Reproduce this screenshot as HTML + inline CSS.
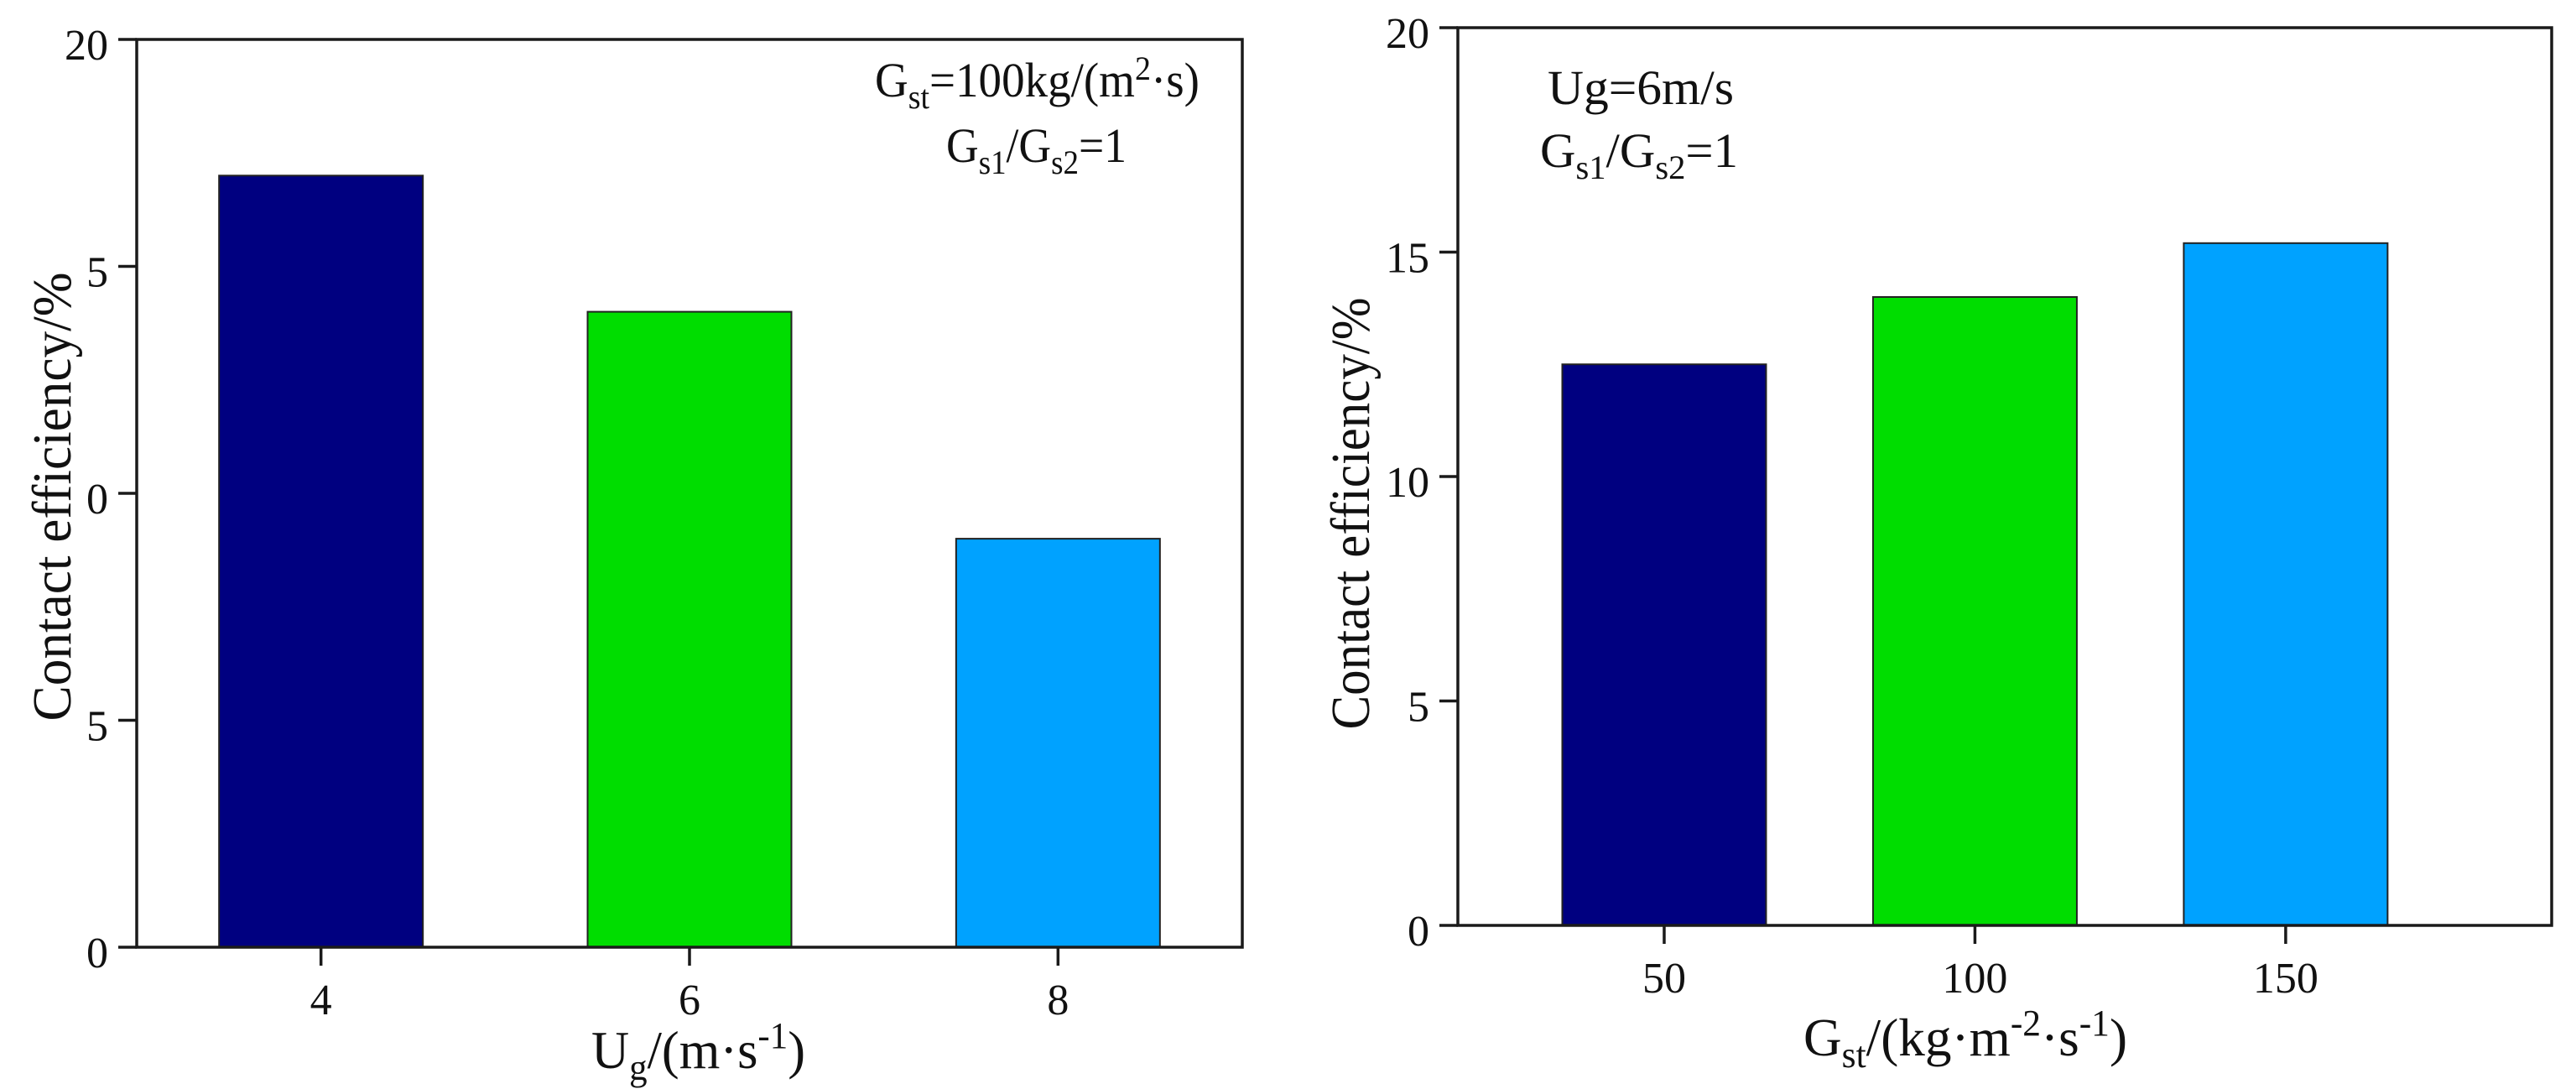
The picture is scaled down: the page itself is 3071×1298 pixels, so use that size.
<!DOCTYPE html>
<html><head><meta charset="utf-8"><style>
html,body{margin:0;padding:0;background:#fff;}
svg{display:block;font-family:"Liberation Serif",serif;}
</style></head><body>
<svg id="fig" width="3071" height="1298" viewBox="0 0 3071 1298" xmlns="http://www.w3.org/2000/svg">
<rect x="0" y="0" width="3071" height="1298" fill="#fff"/>
<g id="left"></g>
<g id="right"></g>
<g font-family="Liberation Serif, serif" fill="#111">
  <text x="1043" y="115" font-size="58" textLength="387" lengthAdjust="spacingAndGlyphs">G<tspan font-size="40" dy="14">st</tspan><tspan dy="-14">=100kg/(m</tspan><tspan font-size="40" dy="-20">2</tspan><tspan dy="20">·s)</tspan></text>
  <text x="1128" y="193" font-size="58" textLength="215" lengthAdjust="spacingAndGlyphs">G<tspan font-size="40" dy="14">s1</tspan><tspan dy="-14">/G</tspan><tspan font-size="40" dy="14">s2</tspan><tspan dy="-14">=1</tspan></text>
  <text x="1845" y="124" font-size="58" textLength="222" lengthAdjust="spacingAndGlyphs">Ug=6m/s</text>
  <text x="1836" y="199" font-size="58" textLength="236" lengthAdjust="spacingAndGlyphs">G<tspan font-size="40" dy="14">s1</tspan><tspan dy="-14">/G</tspan><tspan font-size="40" dy="14">s2</tspan><tspan dy="-14">=1</tspan></text>
  <text x="705" y="1273" font-size="64" textLength="255" lengthAdjust="spacingAndGlyphs">U<tspan font-size="44" dy="14">g</tspan><tspan dy="-14">/(m·s</tspan><tspan font-size="44" dy="-24">-1</tspan><tspan dy="24">)</tspan></text>
  <text x="2150" y="1258" font-size="64" textLength="386" lengthAdjust="spacingAndGlyphs">G<tspan font-size="44" dy="14">st</tspan><tspan dy="-14">/(kg·m</tspan><tspan font-size="44" dy="-24">-2</tspan><tspan dy="24">·s</tspan><tspan font-size="44" dy="-24">-1</tspan><tspan dy="24">)</tspan></text>
</g>
</svg>
<script>
const leftCategories = [4, 6, 8];
const leftValues = [17, 14, 9];
const leftTickValues = [0, 5, 10, 15, 20];
const leftTickLabels = ["0", "5", "0", "5", "20"];
const rightCategories = [50, 100, 150];
const rightValues = [12.5, 14.0, 15.2];
const rightTickValues = [0, 5, 10, 15, 20];
const rightTickLabels = ["0", "5", "10", "15", "20"];
const barColors = ["#000080", "#00dd00", "#00a2ff"];

const NS = "http://www.w3.org/2000/svg";
function mk(parent, tag, attrs, text) {
  const e = document.createElementNS(NS, tag);
  for (const k in attrs) e.setAttribute(k, attrs[k]);
  if (text !== undefined) e.textContent = text;
  parent.appendChild(e);
  return e;
}

function drawChart(g, cfg) {
  const xs = v => cfg.x0 + (v - cfg.xmin) / (cfg.xmax - cfg.xmin) * (cfg.x1 - cfg.x0);
  const ys = v => cfg.y1 - v / 20 * (cfg.y1 - cfg.y0);
  cfg.cats.forEach((c, i) => {
    const cx = xs(c), top = ys(cfg.vals[i]);
    const r = mk(g, "rect", {x: cx - cfg.bw / 2, y: top, width: cfg.bw, height: ys(0) - top,
      fill: barColors[i], stroke: "#222", "stroke-width": 2});
    
    
  });
  const f = mk(g, "rect", {x: cfg.x0, y: cfg.y0, width: cfg.x1 - cfg.x0, height: cfg.y1 - cfg.y0,
    fill: "none", stroke: "#1a1a1a", "stroke-width": 3.5});
  
  
  cfg.tv.forEach((v, i) => {
    const y = ys(v);
    const t = mk(g, "line", {x1: cfg.x0 - 22, x2: cfg.x0, y1: y, y2: y, stroke: "#1a1a1a", "stroke-width": 3.5});
    
    
    const l = mk(g, "text", {x: cfg.x0 - 34, y: y + 24, "text-anchor": "end", "font-size": 52, fill: "#111"}, cfg.tl[i]);
    
    
  });
  cfg.cats.forEach(c => {
    const x = xs(c);
    const t = mk(g, "line", {x1: x, x2: x, y1: cfg.y1, y2: cfg.y1 + 22, stroke: "#1a1a1a", "stroke-width": 3.5});
    
    
    const l = mk(g, "text", {x: x, y: cfg.y1 + 80, "text-anchor": "middle", "font-size": 52, fill: "#111"}, String(c));
    
    
  });
  const yt = mk(g, "text", {x: 0, y: 0, transform: `translate(${cfg.ytx},${cfg.ytc}) rotate(-90)`,
    "text-anchor": "middle", "font-size": 66, fill: "#111", textLength: cfg.ytl, lengthAdjust: "spacingAndGlyphs"}, "Contact efficiency/%");
  
  
}

const L = document.getElementById("left");
drawChart(L, {x0: 163, x1: 1481, y0: 47, y1: 1129, xmin: 3, xmax: 9, bw: 243,
  cats: leftCategories, vals: leftValues, tv: leftTickValues, tl: leftTickLabels,
  ytx: 84, ytc: 592, ytl: 535});
const R = document.getElementById("right");
drawChart(R, {x0: 1738, x1: 3042, y0: 33, y1: 1103, xmin: 16.8, xmax: 192.8, bw: 243,
  cats: rightCategories, vals: rightValues, tv: rightTickValues, tl: rightTickLabels,
  ytx: 1632, ytc: 612, ytl: 515});
</script>
</body></html>
